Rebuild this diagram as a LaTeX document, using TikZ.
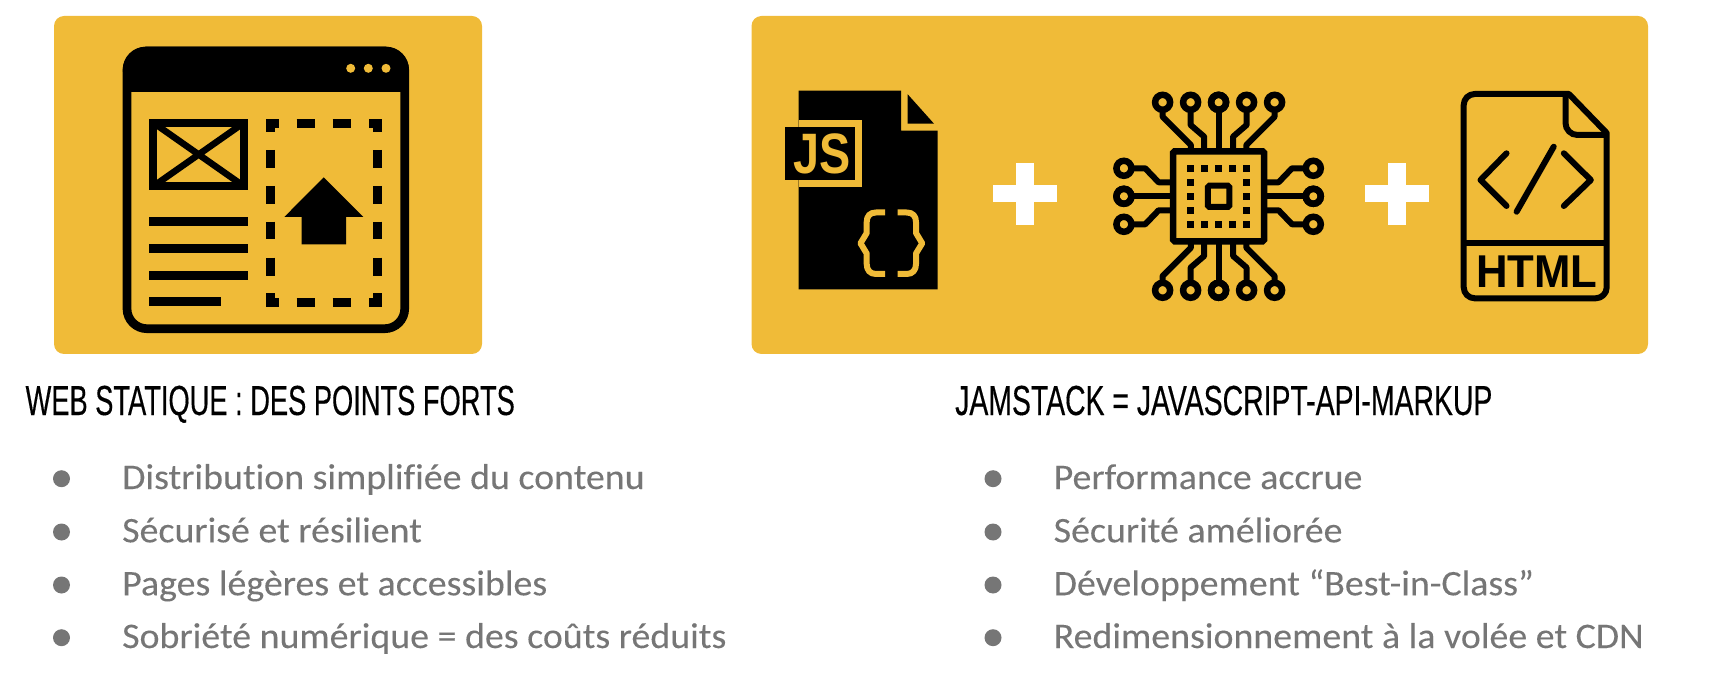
\documentclass[tikz,border=0pt]{standalone}
\usepackage{fontspec}
\setmainfont[FakeStretch=1.052,FakeBold=0.12,Ligatures=NoCommon]{Carlito}
\newfontfamily\titlefont[FakeStretch=0.649,FakeBold=0.3]{Liberation Sans}
\newfontfamily\jamfont[FakeStretch=0.676,FakeBold=0.3]{Liberation Sans}
\newfontfamily\jsfont[FakeStretch=0.82]{Liberation Sans}
\newfontfamily\htmlfont[FakeStretch=0.95]{Liberation Sans}
\definecolor{cardyellow}{HTML}{F0BB38}
\definecolor{itemgrey}{HTML}{767676}
\begin{document}
\begin{tikzpicture}[
        x=1pt, y=-1pt,
        card/.style = {fill=cardyellow, rounded corners=10pt}, % Fond des deux blocs
        hdr/.style = {anchor=base west, inner sep=0pt},
        item/.style = {anchor=base west, inner sep=0pt, text=itemgrey, font=\fontsize{36}{36}\selectfont},
        bullet/.style = {circle, fill=itemgrey, inner sep=0pt, minimum size=17pt},
        pen/.style = {draw=black, line width=6pt},
        wire/.style = {draw=black, line width=6pt, line join=round},
        plus/.style = {fill=white},
        dashbar/.style = {draw=black, line width=9pt},
    ]
    \useasboundingbox (0,0) rectangle (1726,692);

    \fill[card] (54,16) rectangle (482,354);
    \fill[card] (751.5,16) rectangle (1648,354);

    % Fenetre statique
    \draw[line width=8.7pt, rounded corners=20pt] (127,51) rectangle (404.7,328.7);
    \fill[rounded corners=23pt] (122.7,46.7) rectangle (409,92);
    \fill (122.7,69) rectangle (409,92);
    \foreach \x in {350.7,368.3,386}
        \fill[cardyellow] (\x,68.3) circle (4.5);
    \draw[line width=8pt] (153.3,122.7) rectangle (244,186.3);
    \draw[line width=6.5pt] (153.3,122.7) -- (244,186.3) (244,122.7) -- (153.3,186.3);
    \foreach \y/\xend in {221.3/248, 248.3/248, 275.3/248, 302/221}
        \fill (149.3,\y-4.5) rectangle (\xend,\y+4.5);
    \draw[dashbar] (270.2,132) -- (270.2,123.2) -- (279,123.2);
    \draw[dashbar] (369,123.2) -- (377.8,123.2) -- (377.8,132);
    \draw[dashbar] (270.2,293.4) -- (270.2,302.2) -- (279,302.2);
    \draw[dashbar] (369,302.2) -- (377.8,302.2) -- (377.8,293.4);
    \foreach \xa/\xb in {296.7/315, 332.7/351} {
        \draw[dashbar] (\xa,123.2) -- (\xb,123.2);
        \draw[dashbar] (\xa,302.2) -- (\xb,302.2);
    }
    \foreach \ya/\yb in {150/168.3, 186/204, 221.7/239.3, 257.7/275.7} {
        \draw[dashbar] (270.2,\ya) -- (270.2,\yb);
        \draw[dashbar] (377.8,\ya) -- (377.8,\yb);
    }
    \fill (323.7,177.3) -- (363.3,217) -- (346,217) -- (346,244.3) -- (301.7,244.3) -- (301.7,217) -- (284.3,217) -- cycle;

    % Fichier JS
    \fill (798.7,90.7) -- (901,90.7) -- (901,130.7) -- (937.7,130.7) -- (937.7,289.3) -- (798.7,289.3) -- cycle;
    \fill (907.7,94.3) -- (934,123.7) -- (907.7,123.7) -- cycle;
    \fill[cardyellow] (798.7,120.3) rectangle (861.7,187);
    \fill (785.3,127) rectangle (855,180.3);
    \node[anchor=base, inner sep=0pt, text=cardyellow, font=\jsfont\bfseries\fontsize{57}{57}\selectfont] (jslabel) at (822.5,174) {JS};
    \draw[pen, draw=cardyellow, line join=round] (885,212.5) -- (876,212.5) .. controls (870,212.5) and (866.7,216) .. (866.7,222) -- (866.7,233) -- (860.5,243.3) -- (866.7,253.5) -- (866.7,264) .. controls (866.7,270) and (870,274) .. (876,274) -- (885,274);
    \draw[pen, draw=cardyellow, line join=round] (897.7,212.5) -- (906.7,212.5) .. controls (912.7,212.5) and (916,216) .. (916,222) -- (916,233) -- (922.2,243.3) -- (916,253.5) -- (916,264) .. controls (916,270) and (912.7,274) .. (906.7,274) -- (897.7,274);

    % Les deux signes plus
    \foreach \xc in {1024.7,1397} {
        \fill[plus] (\xc-32,185) rectangle (\xc+32,202.3);
        \fill[plus] (\xc-9,163.3) rectangle (\xc+9,225);
    }

    % Puce
    \begin{scope}[shift={(1218.6,196.3)}]
        \draw[line width=6.5pt, rounded corners=1.5pt] (-45.4,-45) rectangle (45.4,45);
        \draw[line width=6pt, rounded corners=1.5pt] (-10.7,-10.7) rectangle (10.7,10.7);
        \foreach \i in {-2,...,2} {
            \fill ({14*\i-3.3},-31.3) rectangle ++(6.6,6.6);
            \fill ({14*\i-3.3},24.7) rectangle ++(6.6,6.6);
            \fill (-31.3,{14*\i-3.3}) rectangle ++(6.6,6.6);
            \fill (24.7,{14*\i-3.3}) rectangle ++(6.6,6.6);
        }
        \foreach \sx/\sy in {1/1,-1/1,1/-1,-1/-1} {
            \begin{scope}[xscale=\sx, yscale=\sy]
                \draw[line width=6.5pt] (-56,-94) circle (7.5) (-28,-94) circle (7.5) (0,-94) circle (7.5);
                \draw[line width=6.5pt] (-94.7,-28) circle (7.5) (-94.7,0) circle (7.5);
                \draw[wire] (-56,-86) -- (-56,-79.6) -- (-27.7,-51.3) -- (-27.7,-45);
                \draw[wire] (-28,-86) -- (-28,-71.3) -- (-14.4,-59.6) -- (-14.4,-45);
                \draw[wire] (0,-86) -- (0,-45);
                \draw[wire] (-87,-28) -- (-73.4,-28) -- (-60,-14) -- (-45,-14);
                \draw[wire] (-87,0) -- (-45,0);
            \end{scope}
        }
    \end{scope}

    % Fichier HTML
    \begin{scope}[xshift=-2pt]
        \draw[pen, line join=round, rounded corners=11pt] (1608.7,133) -- (1608.7,298.3) -- (1465.7,298.3) -- (1465.7,94) -- (1520,94) [sharp corners] -- (1570.9,94) -- cycle;
        \draw[pen, rounded corners=12pt] (1567.5,94) -- (1567.5,135) -- (1608.7,135);
        \draw[pen] (1465.7,243.3) -- (1608.7,243.3);
        \draw[pen, line cap=round, line join=round] (1508.5,153.3) -- (1482.5,180) -- (1508.5,206);
        \draw[pen, line cap=round, line join=round] (1565.8,153.3) -- (1592.8,180) -- (1565.8,206);
        \draw[pen, line cap=round] (1555.7,146.7) -- (1518.6,211.7);
        \node[anchor=base, inner sep=0pt, font=\htmlfont\bfseries\fontsize{46}{46}\selectfont] (htmllabel) at (1538.8,287.3) {HTML};
    \end{scope}

    % Titres et listes
    \node[hdr, font=\titlefont\fontsize{42}{42}\selectfont] (titlestatic) at (25.4,415) {WEB STATIQUE : DES POINTS FORTS};
    \node[hdr, font=\jamfont\fontsize{42}{42}\selectfont] (titlejam) at (955,415) {JAMSTACK = JAVASCRIPT-API-MARKUP};

    \foreach \n/\yb/\txt in {1/489/Distribution simplifiée du contenu, 2/542.3/Sécurisé et résilient, 3/595.3/Pages légères et accessibles, 4/648/Sobriété numérique = des coûts réduits} {
        \node[bullet] (dotstatic\n) at (61.5,\yb-10.3) {};
        \node[item] (itemstatic\n) at (122,\yb) {\txt};
    }
    \foreach \n/\yb/\txt in {1/489/Performance accrue, 2/542.3/Sécurité améliorée, 3/595.3/Développement “Best-in-Class”, 4/648/Redimensionnement à la volée et CDN} {
        \node[bullet] (dotjam\n) at (993,\yb-10.3) {};
        \node[item] (itemjam\n) at (1053.5,\yb) {\txt};
    }
\end{tikzpicture}
\end{document}
